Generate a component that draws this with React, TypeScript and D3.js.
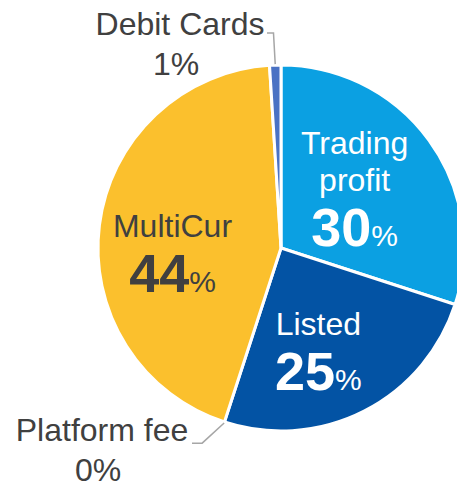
import React, { useEffect, useRef } from 'react';
import * as d3 from 'd3';

// slices, clockwise from 12 o'clock
const categories = ['Trading profit', 'Listed', 'Platform fee', 'MultiCur', 'Debit Cards'];
const shares = [30, 25, 0, 44, 1];
const colors = ['#0BA0E2', '#0353A4', '#7F7F7F', '#FBC02D', '#4A72C4'];

const W = 457;
const H = 488;

const App = () => {
    const svgRef = useRef<SVGSVGElement>(null);

    useEffect(() => {
        const svg = d3.select(svgRef.current);
        svg.selectAll('*').remove();

        const cx = 281;
        const cy = 248;
        const R = 183;
        const font = '"Liberation Sans", Arial, sans-serif';

        const data = categories.map((c, i) => ({ name: c, value: shares[i], color: colors[i] }));

        const pie = d3.pie<any>().sort(null).value(d => d.value);
        const arcs = pie(data);
        const arc = d3.arc<any>().innerRadius(0).outerRadius(R);

        const g = svg.append('g').attr('transform', `translate(${cx},${cy})`);

        g.selectAll('path')
            .data(arcs.filter(a => a.data.value > 0))
            .enter()
            .append('path')
            .attr('d', arc)
            .attr('fill', d => d.data.color)
            .attr('stroke', 'white')
            .attr('stroke-width', 3)
            .attr('stroke-linejoin', 'round');

        // inside labels: radius fraction + angle nudge (deg)
        const inside: Record<string, { r: number; da: number; lines: string[]; color: string }> = {
            'Trading profit': { r: 0.48, da: 3, lines: ['Trading', 'profit'], color: 'white' },
            'MultiCur': { r: 0.6, da: -16, lines: ['MultiCur'], color: '#404040' },
            'Listed': { r: 0.66, da: 9, lines: ['Listed'], color: 'white' },
        };

        const polar = (angle: number, r: number) => [Math.sin(angle) * r, -Math.cos(angle) * r];

        arcs.forEach(a => {
            const cfg = inside[a.data.name];
            if (!cfg) return;
            const mid = (a.startAngle + a.endAngle) / 2 + (cfg.da * Math.PI) / 180;
            const [lx, ly] = polar(mid, R * cfg.r);
            const lineH = 37;
            const valGap = 55;
            const span = (cfg.lines.length - 1) * lineH + valGap;
            const y0 = ly - span / 2;
            cfg.lines.forEach((t, i) => {
                g.append('text')
                    .attr('x', lx)
                    .attr('y', y0 + i * lineH)
                    .attr('text-anchor', 'middle')
                    .attr('fill', cfg.color)
                    .style('font-family', font)
                    .style('font-size', '32px')
                    .text(t);
            });
            const v = g.append('text')
                .attr('x', lx)
                .attr('y', y0 + (cfg.lines.length - 1) * lineH + valGap)
                .attr('text-anchor', 'middle')
                .attr('fill', cfg.color)
                .style('font-family', font);
            v.append('tspan').style('font-size', '54px').style('font-weight', 'bold').text(a.data.value);
            v.append('tspan').style('font-size', '30px').text('%');
        });

        // outside labels with leader lines
        const outside: Record<string, { elbowR: number; da: number; tx: number; ty: number; lineEnd: number }> = {
            'Debit Cards': { elbowR: 1.175, da: -0.2, tx: -101, ty: -213, lineEnd: -14 },
            'Platform fee': { elbowR: 1.15, da: 4, tx: -179, ty: 193, lineEnd: -89 },
        };

        arcs.forEach(a => {
            const cfg = outside[a.data.name];
            if (!cfg) return;
            const mid = (a.startAngle + a.endAngle) / 2;
            const [ex, ey] = polar(mid, R + 1);
            const [bx, by] = polar(mid + (cfg.da * Math.PI) / 180, R * cfg.elbowR);
            g.append('path')
                .attr('d', `M${ex},${ey}L${bx},${by}L${cfg.lineEnd},${by}`)
                .attr('fill', 'none')
                .attr('stroke', '#A6A6A6')
                .attr('stroke-width', 1.5);
            g.append('text')
                .attr('x', cfg.tx)
                .attr('y', cfg.ty)
                .attr('text-anchor', 'middle')
                .attr('fill', '#404040')
                .style('font-family', font)
                .style('font-size', '32px')
                .text(a.data.name);
            g.append('text')
                .attr('x', cfg.tx - 4)
                .attr('y', cfg.ty + 40)
                .attr('text-anchor', 'middle')
                .attr('fill', '#404040')
                .style('font-family', font)
                .style('font-size', '32px')
                .text(`${a.data.value}%`);
        });
    }, []);

    return (
        <svg
            ref={svgRef}
            width={W}
            height={H}
            style={{ position: 'absolute', left: 0, top: 0, background: 'white' }}
        ></svg>
    );
};

export default App;
